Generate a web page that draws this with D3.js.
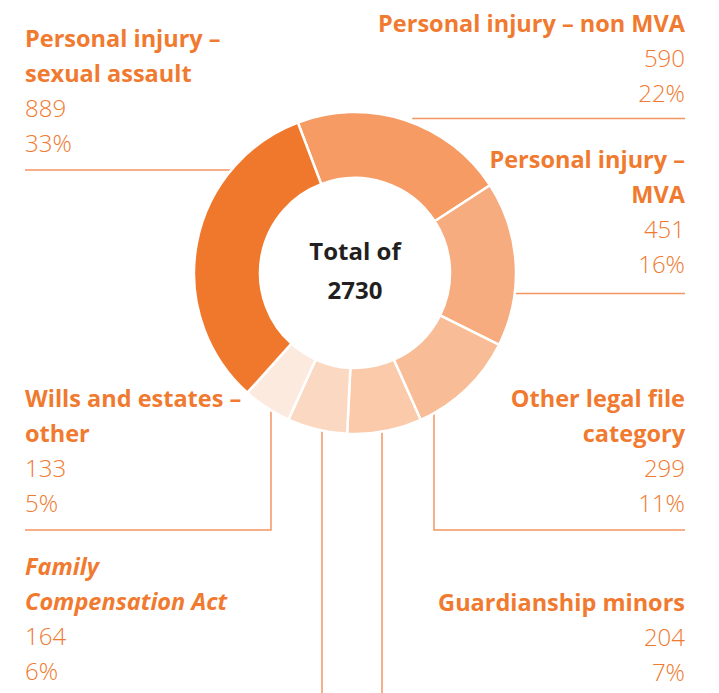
<!DOCTYPE html>
<html>
<head>
<meta charset="utf-8">
<script src="https://cdn.jsdelivr.net/npm/d3@7"></script>
<style>
  body { margin: 0; background: #fff; }
  svg { display: block; font-family: "Open Sans", sans-serif; }
</style>
</head>
<body>
<script>
// Data, in the order the slices run clockwise
const categories = [
  "Personal injury – non MVA",
  "Personal injury – MVA",
  "Other legal file category",
  "Guardianship minors",
  "Family Compensation Act",
  "Wills and estates – other",
  "Personal injury – sexual assault"
];
const counts = [590, 451, 299, 204, 164, 133, 889];
const percents = ["22%", "16%", "11%", "7%", "6%", "5%", "33%"];
const colors = ["#f59b63", "#f6ac7f", "#f8bc96", "#facaaa", "#fbd8c2", "#fdeadf", "#f0782d"];
const labelLines = [
  ["Personal injury – non MVA"],
  ["Personal injury –", "MVA"],
  ["Other legal file", "category"],
  ["Guardianship minors"],
  ["Family", "Compensation Act"],
  ["Wills and estates –", "other"],
  ["Personal injury –", "sexual assault"]
];
const total = d3.sum(counts);

const width = 719;
const height = 693;
const cx = 355;
const cy = 273;
const outerR = 161;
const innerR = 95;
const orange = "#f07a2f";
const lineColor = "#f39560";
const lh = 35;

const svg = d3.select("body")
  .append("svg")
  .attr("width", width)
  .attr("height", height)
  .attr("viewBox", [0, 0, width, height]);

// edge of the ring at a given y (left or right side)
const edgeX = (y, side) => cx + side * Math.sqrt(outerR * outerR - (y - cy) * (y - cy));

// leader lines, drawn under the ring
const leaders = svg.append("g")
  .attr("fill", "none")
  .attr("stroke", lineColor)
  .attr("stroke-width", 1.5);

leaders.append("path").attr("d", `M25,170H${edgeX(170, -1)}`);
leaders.append("path").attr("d", `M${edgeX(118.5, 1) + 12},118.5H685`);
leaders.append("path").attr("d", `M${edgeX(293.5, 1)},293.5H685`);
leaders.append("path").attr("d", "M434,405V530H685");
leaders.append("path").attr("d", "M382,425V693");
leaders.append("path").attr("d", "M322,425V693");
leaders.append("path").attr("d", "M271,405V530H25");

// donut
const pie = d3.pie()
  .sort(null)
  .startAngle(-20.8 * Math.PI / 180)
  .endAngle((360 - 20.8) * Math.PI / 180);

const arc = d3.arc()
  .innerRadius(innerR)
  .outerRadius(outerR);

svg.append("g")
  .attr("transform", `translate(${cx},${cy})`)
  .selectAll("path")
  .data(pie(counts))
  .join("path")
  .attr("d", arc)
  .attr("fill", (d, i) => colors[i])
  .attr("stroke", "#fff")
  .attr("stroke-width", 2.5);

// centre text
svg.append("g")
  .attr("text-anchor", "middle")
  .attr("font-weight", 700)
  .attr("font-size", 24)
  .attr("fill", "#231f20")
  .selectAll("text")
  .data(["Total of", total])
  .join("text")
  .attr("x", cx)
  .attr("y", (d, i) => 260 + i * 38.5)
  .text(d => d);

// label positions: x, anchor, first baseline
const labelPos = [
  [685, "end", 31.7],
  [685, "end", 168.3],
  [685, "end", 407.3],
  [685, "end", 610.7],
  [25, "start", 575],
  [25, "start", 407.3],
  [25, "start", 46.7]
];

categories.forEach((c, i) => {
  const [x, anchor, y0] = labelPos[i];
  const g = svg.append("g").attr("text-anchor", anchor);
  labelLines[i].forEach((t, j) => {
    g.append("text")
      .attr("x", x)
      .attr("y", y0 + j * lh)
      .attr("fill", orange)
      .attr("font-weight", 700)
      .attr("font-size", 23.5)
      .attr("font-style", i === 4 ? "italic" : null)
      .text(t);
  });
  const n = labelLines[i].length;
  [counts[i], percents[i]].forEach((t, j) => {
    g.append("text")
      .attr("x", x)
      .attr("y", y0 + (n + j) * lh)
      .attr("fill", orange)
      .attr("font-weight", 300)
      .attr("font-size", 24)
      .text(t);
  });
});
</script>
</body>
</html>
